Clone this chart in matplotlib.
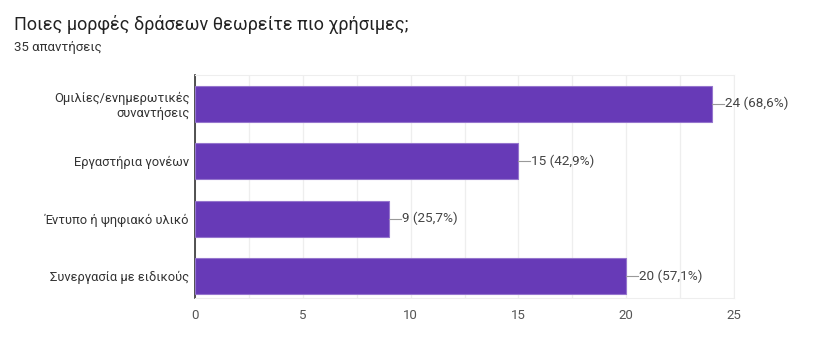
import matplotlib.pyplot as plt

plt.rcParams['font.family'] = ['Roboto', 'DejaVu Sans']

categories = ['Ομιλίες/ενημερωτικές\nσυναντήσεις', 'Εργαστήρια γονέων',
              'Έντυπο ή ψηφιακό υλικό', 'Συνεργασία με ειδικούς']
counts = [24, 15, 9, 20]
labels = ['24 (68,6%)', '15 (42,9%)', '9 (25,7%)', '20 (57,1%)']
xticks = [0, 5, 10, 15, 20, 25]

fig = plt.figure(figsize=(8.31, 3.43), dpi=100)
ax = fig.add_axes([0.2347, 0.1312, 0.6486, 0.650])

y = list(range(len(categories)))
ax.barh(y, counts, height=0.63, color='#673ab7', edgecolor='#9575cd', linewidth=0.8, zorder=3)

for yi, c, lab in zip(y, counts, labels):
    ax.plot([c, c + 0.55], [yi, yi], color='#999999', lw=0.8, zorder=3)
    ax.text(c + 0.6, yi, lab, va='center', ha='left', fontsize=9.7, color='#444444')

ax.set_xlim(0, 25)
ax.set_ylim(3.38, -0.5)
ax.set_yticks(y)
ax.set_yticklabels(categories, fontsize=9.3, color='#333333', multialignment='right')
ax.set_xticks(xticks)
ax.set_xticklabels([str(t) for t in xticks], fontsize=9.5, color='#555555')
ax.set_xticks([2.5, 7.5, 12.5, 17.5, 22.5], minor=True)
ax.grid(axis='x', which='both', color='#eeeeee', lw=0.9, zorder=0)
ax.tick_params(axis='both', which='both', length=0)
ax.tick_params(axis='y', pad=4)
ax.tick_params(axis='x', pad=8)

for s in ['top', 'right', 'bottom']:
    ax.spines[s].set_color('#eeeeee')
ax.spines['left'].set_color('#333333')
ax.spines['left'].set_linewidth(1.2)

fig.text(14 / 831, 1 - 30 / 343, 'Ποιες μορφές δράσεων θεωρείτε πιο χρήσιμες;',
         fontsize=13, color='#222222', va='baseline')
fig.text(14 / 831, 1 - 51 / 343, '35 απαντήσεις', fontsize=9.5, color='#333333', va='baseline')

fig.savefig('out.png', dpi=100, facecolor='white')
